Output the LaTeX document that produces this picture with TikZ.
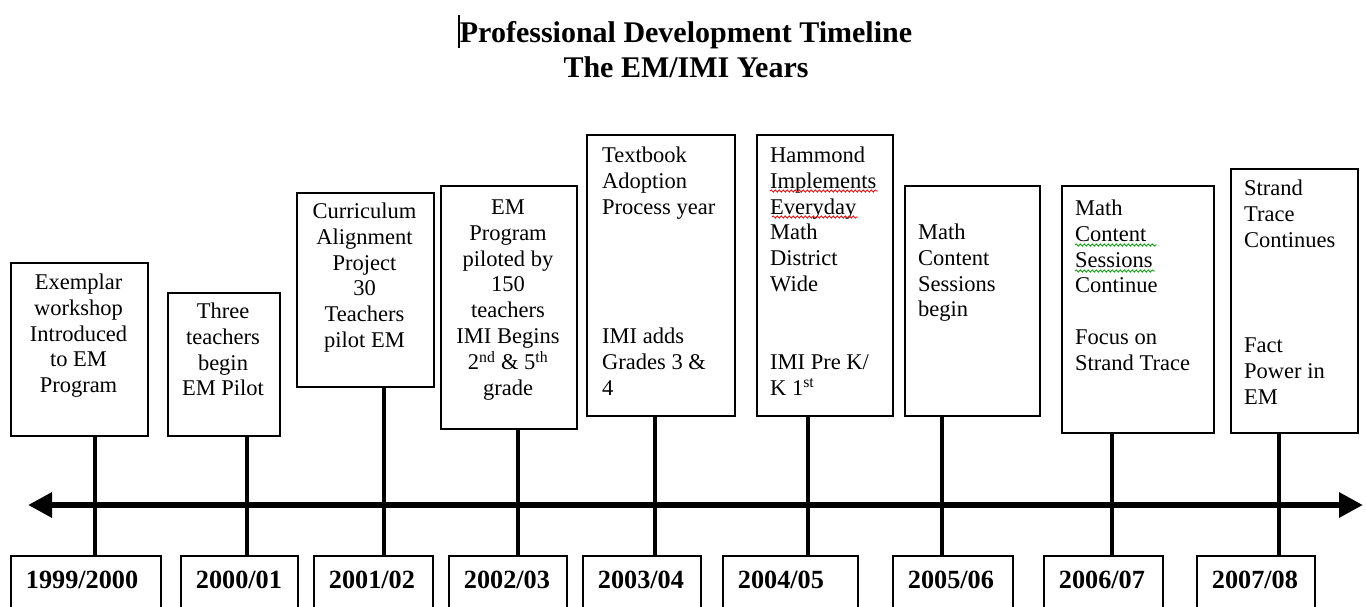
\documentclass[tikz,border=0pt]{standalone}
\usepackage{fontspec}
\setmainfont{Liberation Serif}
\usetikzlibrary{arrows.meta,decorations.pathmorphing}
\begin{document}
\begin{tikzpicture}[x=1pt,y=-1pt,
  evbox/.style={draw=black, line width=1.8pt, inner sep=0pt, fill=white},
  evtext/.style={inner sep=0pt, font=\fontsize{22.5}{25.9}\selectfont},
  evc/.style={evtext, anchor=north, align=center},
  evl/.style={evtext, anchor=north west, align=left},
  yrbox/.style={draw=black, line width=1.8pt, fill=white, anchor=north west, inner xsep=15pt, inner ysep=15pt, text height=18pt, text depth=8pt, align=left, font=\fontsize{26.25}{30}\selectfont\bfseries},
  stem/.style={draw=black, line width=3.5pt},
  timeline/.style={draw=black, line width=6pt, {Triangle[length=24pt,width=24pt]}-{Triangle[length=24pt,width=24pt]}},
  titletext/.style={inner sep=0pt, anchor=north, align=center, font=\fontsize{30}{35}\selectfont\bfseries},
  spellred/.style={draw={rgb,255:red,230;green,20;blue,20}, line width=0.9pt, decorate, decoration={snake, amplitude=1.1pt, segment length=4pt}},
  spellgreen/.style={draw={rgb,255:red,20;green,160;blue,20}, line width=0.9pt, decorate, decoration={snake, amplitude=1.1pt, segment length=4pt}}
]
\useasboundingbox (0,0) rectangle (1366,606);
\clip (0,0) rectangle (1366,606);

% title
\node[titletext] (title) at (686,17.5) {\strut Professional Development Timeline\\The EM/IMI Years};
\coordinate (curA) at (459,15);
\coordinate (curB) at (459,48);
\draw[line width=2.5pt] (curA) -- (curB);

% stem x positions
\coordinate (s1) at (95,0);
\coordinate (s2) at (247,0);
\coordinate (s3) at (384,0);
\coordinate (s4) at (518,0);
\coordinate (s5) at (655,0);
\coordinate (s6) at (808,0);
\coordinate (s7) at (942,0);
\coordinate (s8) at (1112,0);
\coordinate (s9) at (1279,0);

% event boxes
\node[evbox, anchor=north west, minimum width=137pt, minimum height=173pt] (e1) at (10,262) {};
\node[evbox, anchor=north west, minimum width=112pt, minimum height=143pt] (e2) at (167,292) {};
\node[evbox, anchor=north west, minimum width=137pt, minimum height=194pt] (e3) at (296,192) {};
\node[evbox, anchor=north west, minimum width=136pt, minimum height=243pt] (e4) at (440,185) {};
\node[evbox, anchor=north west, minimum width=148pt, minimum height=281pt] (e5) at (586,134) {};
\node[evbox, anchor=north west, minimum width=136pt, minimum height=281pt] (e6) at (756,134) {};
\node[evbox, anchor=north west, minimum width=135pt, minimum height=230pt] (e7) at (904,185) {};
\node[evbox, anchor=north west, minimum width=152pt, minimum height=247pt] (e8) at (1061,185) {};
\node[evbox, anchor=north west, minimum width=127pt, minimum height=264pt] (e9) at (1230,168) {};

% event texts
\node[evc] (t1) at (78.5,270.9) {\strut Exemplar\\workshop\\Introduced\\to EM\\Program};
\node[evc] (t2) at (223,299.9) {\strut Three\\teachers\\begin\\EM Pilot};
\node[evc] (t3) at (364.5,199.9) {\strut Curriculum\\Alignment\\Project\\30\\Teachers\\pilot EM};
\node[evc] (t4) at (508,195.9) {\strut EM\\Program\\piloted by\\150\\teachers\\IMI Begins\\2\textsuperscript{nd} \& 5\textsuperscript{th}\\grade};
\node[evl] (t5) at (602,143.9) {\strut Textbook\\Adoption\\Process year\\[103.6pt]IMI adds\\Grades 3 \&\\4};
\node[evl] (t6) at (770,143.9) {\strut Hammond\\Implements\\Everyday\\Math\\District\\Wide\\[51.8pt]IMI Pre K/\\K 1\textsuperscript{st}};
\node[evl] (t7) at (918,220.9) {\strut Math\\Content\\Sessions\\begin};
\node[evl] (t8) at (1075,196.9) {\strut Math\\Content\\Sessions\\Continue\\[25.9pt]Focus on\\Strand Trace};
\node[evl] (t9) at (1244,176.9) {\strut Strand\\Trace\\Continues\\[80pt]Fact\\Power in\\EM};

% spelling / grammar marks
\draw[spellred] (770,191) -- (878,191);
\draw[spellred] (772,217) -- (858,217);
\draw[spellgreen] (1075,245) -- (1157,245);
\draw[spellgreen] (1075,271) -- (1155,271);

% year boxes
\node[yrbox, text width=120pt] (y1) at (10,555) {1999/2000};
\node[yrbox, text width=87pt] (y2) at (180,555) {2000/01};
\node[yrbox, text width=89pt] (y3) at (313,555) {2001/02};
\node[yrbox, text width=88pt] (y4) at (448,555) {2002/03};
\node[yrbox, text width=88pt] (y5) at (582,555) {2003/04};
\node[yrbox, text width=105pt] (y6) at (722,555) {2004/05};
\node[yrbox, text width=90pt] (y7) at (892,555) {2005/06};
\node[yrbox, text width=89pt] (y8) at (1043,555) {2006/07};
\node[yrbox, text width=88pt] (y9) at (1196,555) {2007/08};

% stems
\draw[stem] (e1.south -| s1) -- (y1.north -| s1);
\draw[stem] (e2.south -| s2) -- (y2.north -| s2);
\draw[stem] (e3.south -| s3) -- (y3.north -| s3);
\draw[stem] (e4.south -| s4) -- (y4.north -| s4);
\draw[stem] (e5.south -| s5) -- (y5.north -| s5);
\draw[stem] (e6.south -| s6) -- (y6.north -| s6);
\draw[stem] (e7.south -| s7) -- (y7.north -| s7);
\draw[stem] (e8.south -| s8) -- (y8.north -| s8);
\draw[stem] (e9.south -| s9) -- (y9.north -| s9);

% timeline arrow
\coordinate (aL) at (28,505);
\coordinate (aR) at (1363,505);
\draw[timeline] (aL) -- (aR);
\end{tikzpicture}
\end{document}
